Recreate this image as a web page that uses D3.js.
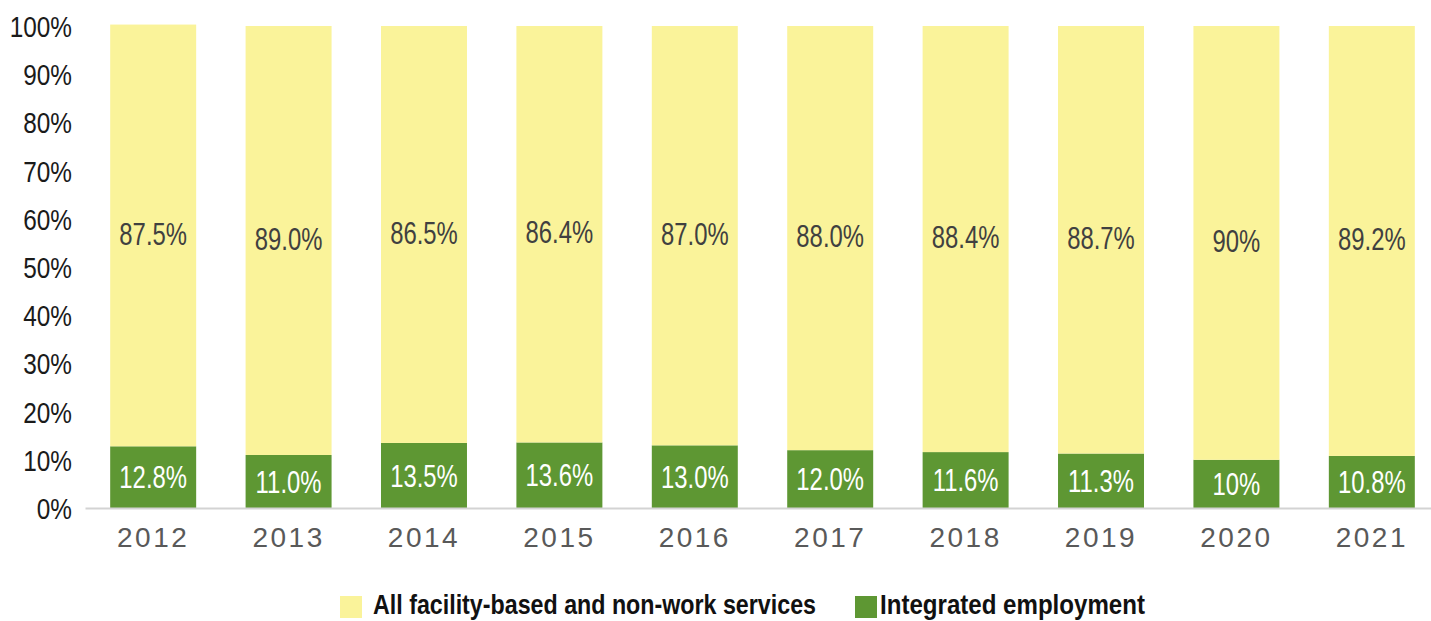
<!DOCTYPE html>
<html>
  <head>
    <meta charset="utf-8">
    <title>Integrated employment vs facility-based services</title>
    <style>
      body { margin: 0; background: #fff; }
      svg { display: block; font-family: "Liberation Sans", Arial, sans-serif; }
      .y-axis .tick text { font-size: 29px; fill: #1a1a1a; }
      .x-axis .tick text { font-size: 28px; fill: #595959; letter-spacing: 2.5px; }
      .label { font-size: 31px; }
      .legend text { font-size: 28px; font-weight: bold; fill: #111; }
    </style>
  </head>
  <body>
    <div id="chart"></div>
    <script src="https://d3js.org/d3.v7.min.js"></script>
    <script>
      (function(d3) {
        'use strict';
        var years = ['2012', '2013', '2014', '2015', '2016', '2017', '2018', '2019', '2020', '2021'];
        var integrated = [12.8, 11.0, 13.5, 13.6, 13.0, 12.0, 11.6, 11.3, 10, 10.8];
        var facility = [87.5, 89.0, 86.5, 86.4, 87.0, 88.0, 88.4, 88.7, 90, 89.2];
        var integratedLabels = ['12.8%', '11.0%', '13.5%', '13.6%', '13.0%', '12.0%', '11.6%', '11.3%', '10%', '10.8%'];
        var facilityLabels = ['87.5%', '89.0%', '86.5%', '86.4%', '87.0%', '88.0%', '88.4%', '88.7%', '90%', '89.2%'];
        var yTicks = [0, 10, 20, 30, 40, 50, 60, 70, 80, 90, 100];
        var seriesNames = ['All facility-based and non-work services', 'Integrated employment'];

        var width = 1431;
        var height = 621;
        var yellow = '#faf39a';
        var green = '#5e9733';

        // no condensed font in the sandbox, so squeeze the glyphs a bit
        function condense(sel, f) {
          sel.each(function() {
            var w = this.getComputedTextLength();
            d3.select(this)
              .attr('textLength', w * f)
              .attr('lengthAdjust', 'spacingAndGlyphs');
          });
        }

        var svg = d3.select('#chart')
          .append('svg')
          .attr('width', width)
          .attr('height', height);

        var x = d3.scaleBand()
          .domain(years)
          .range([85, 1440])
          .paddingInner(0.365)
          .paddingOuter(0.186);

        var y = d3.scaleLinear()
          .domain([0, 100])
          .range([508, 26]);

        var rows = years.map(function(yr, i) {
          return { year: yr, integrated: integrated[i], facility: facility[i],
                   iLabel: integratedLabels[i], fLabel: facilityLabels[i] };
        });

        var bars = svg.selectAll('.bar')
          .data(rows)
          .enter()
          .append('g')
          .attr('class', 'bar');

        // green on the bottom
        bars.append('rect')
          .attr('x', function(d) { return x(d.year); })
          .attr('width', x.bandwidth())
          .attr('y', function(d) { return y(d.integrated); })
          .attr('height', function(d) { return y(0) - y(d.integrated); })
          .attr('fill', green);

        // yellow stacked on top
        bars.append('rect')
          .attr('x', function(d) { return x(d.year); })
          .attr('width', x.bandwidth())
          .attr('y', function(d) { return y(d.integrated + d.facility); })
          .attr('height', function(d) { return y(d.integrated) - y(d.integrated + d.facility); })
          .attr('fill', yellow);

        bars.append('text')
          .attr('class', 'label')
          .attr('x', function(d) { return x(d.year) + x.bandwidth() / 2; })
          .attr('y', function(d) { return (y(0) + y(d.integrated)) / 2; })
          .attr('dy', '0.36em')
          .attr('text-anchor', 'middle')
          .attr('fill', '#fff')
          .text(function(d) { return d.iLabel; });

        bars.append('text')
          .attr('class', 'label')
          .attr('x', function(d) { return x(d.year) + x.bandwidth() / 2; })
          .attr('y', function(d) { return (y(d.integrated) + y(d.integrated + d.facility)) / 2 - 2; })
          .attr('dy', '0.36em')
          .attr('text-anchor', 'middle')
          .attr('fill', '#404040')
          .text(function(d) { return d.fLabel; });

        condense(svg.selectAll('.label'), 0.77);

        var yAxis = svg.append('g')
          .attr('class', 'y-axis')
          .attr('transform', 'translate(72,0)')
          .call(d3.axisLeft(y).tickValues(yTicks).tickSize(0).tickPadding(0)
            .tickFormat(function(d) { return d + '%'; }));
        yAxis.select('.domain').remove();
        yAxis.selectAll('.tick text').attr('dy', '0.36em');
        condense(yAxis.selectAll('.tick text'), 0.84);

        var xAxis = svg.append('g')
          .attr('class', 'x-axis')
          .attr('transform', 'translate(0,' + y(0) + ')')
          .call(d3.axisBottom(x).tickSize(0).tickPadding(19));
        xAxis.select('.domain')
          .attr('stroke', '#d3d3d3')
          .attr('stroke-width', 2);

        var legend = svg.append('g')
          .attr('class', 'legend')
          .attr('transform', 'translate(0,593)');
        var legendX = [340, 855];
        var legendColors = [yellow, green];
        var legendSqueeze = [0.83, 0.86];
        var items = legend.selectAll('g')
          .data(seriesNames)
          .enter()
          .append('g')
          .attr('transform', function(d, i) { return 'translate(' + legendX[i] + ',0)'; });
        items.append('rect')
          .attr('y', 3)
          .attr('width', 22)
          .attr('height', 22)
          .attr('fill', function(d, i) { return legendColors[i]; });
        items.append('text')
          .attr('x', function(d, i) { return i === 0 ? 33 : 25; })
          .attr('y', 11)
          .attr('dy', '0.36em')
          .text(function(d) { return d; })
          .each(function(d, i) { condense(d3.select(this), legendSqueeze[i]); });
      })(window.d3);
    </script>
  </body>
</html>
